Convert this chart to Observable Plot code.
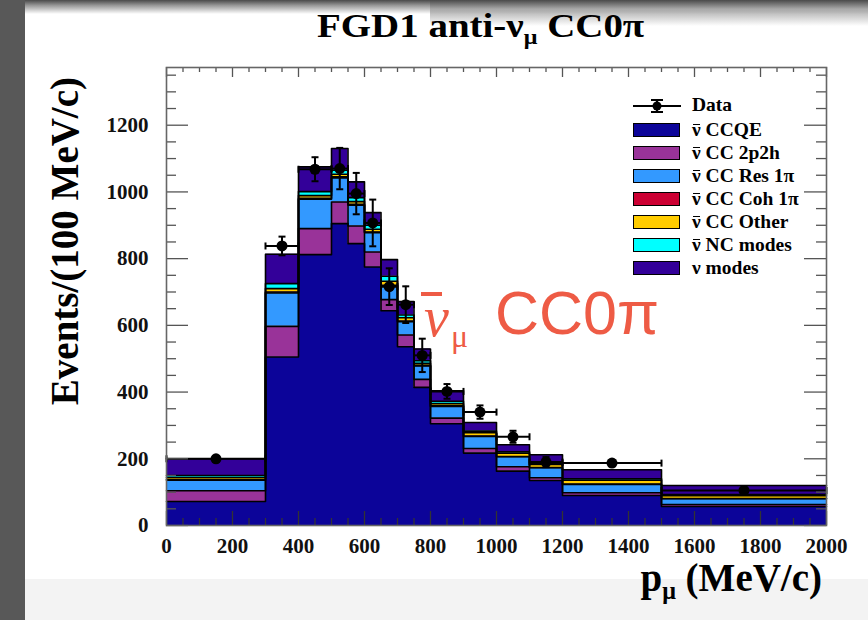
<!DOCTYPE html>
<html><head><meta charset="utf-8">
<script src="https://cdn.jsdelivr.net/npm/d3@7"></script>
<script src="https://cdn.jsdelivr.net/npm/@observablehq/plot@0.6"></script>
<style>
html,body{margin:0;padding:0;}
body{width:868px;height:620px;position:relative;overflow:hidden;background:#585858;font-family:"Liberation Serif","Times New Roman",serif;}
#panel{position:absolute;left:25px;top:0;width:843px;height:620px;background:#fff;}
#topshade{position:absolute;left:25px;top:0;width:843px;height:14px;background:linear-gradient(#4a4a4a 0%,#9a9a9a 40%,#ffffff 100%);}
#topshade2{position:absolute;left:430px;top:0;width:438px;height:26px;background:linear-gradient(#4a4a4a 0%,#aaaaaa 35%,rgba(255,255,255,0) 100%);}
#bottomband{position:absolute;left:25px;top:579px;width:843px;height:41px;background:#f3f3f3;}
#chart{position:absolute;left:0;top:0;}
#title{position:absolute;left:0;top:8px;width:962px;text-align:center;font-size:33px;line-height:36px;font-weight:bold;white-space:nowrap;}
#title span.t{display:inline-block;transform:scaleX(1.18);}
sub{font-size:0.62em;vertical-align:-0.32em;line-height:0;}
#ylabel{position:absolute;left:45px;top:477px;width:400px;text-align:right;transform-origin:0 0;transform:rotate(-90deg);font-size:39px;line-height:40px;font-weight:bold;white-space:nowrap;}
#xlabel{position:absolute;right:46px;top:558px;font-size:39px;line-height:40px;font-weight:bold;white-space:nowrap;}
.leg{position:absolute;font-size:19.5px;font-weight:bold;white-space:nowrap;line-height:20px;}
.ov{position:relative;display:inline-block;}
.ov::before{content:"";position:absolute;left:1px;right:1px;top:4px;height:1.5px;background:#000;}
.sw{position:absolute;width:45px;height:12px;border:1.5px solid #000;}
.red{position:absolute;color:#ee5b45;white-space:nowrap;}
</style></head><body>
<div id="panel"></div>
<div id="topshade"></div>
<div id="topshade2"></div>
<div id="bottomband"></div>
<div id="chart"></div>
<div id="title"><span class="t">FGD1 anti-ν<sub>μ</sub> CC0π</span></div>
<div id="ylabel">Events/(100 MeV/c)</div>
<div id="xlabel">p<sub>μ</sub> (MeV/c)</div>
<div id="legend"></div>
<div class="red" style="left:424px;top:290px;font-family:'Liberation Serif',serif;font-style:italic;font-size:56px;line-height:54px;">ν</div>
<div class="red" style="left:421px;top:292px;width:21px;height:4px;background:#ee5b45;"></div>
<div class="red" style="left:451px;top:320px;font-family:'Liberation Serif',serif;font-size:32px;line-height:32px;">μ</div>
<div class="red" style="left:495px;top:283px;font-family:'Liberation Sans',Arial,sans-serif;font-size:61px;line-height:60px;">CC0π</div>
<script>
// ---- data ----
const binEdges = [0,300,400,500,550,600,650,700,750,800,900,1000,1100,1200,1500,2000];
const ccqe    = [72, 505, 812, 905, 845, 775, 644, 536, 414, 305, 217, 163, 135, 90, 57];
const cc2p2h  = [32,  92,  78,  65,  53,  45,  33,  35,  24,  17,  14,  13,   8,  8,  6];
const ccRes1pi= [32, 100,  88,  72,  62,  58,  40,  40,  40,  35,  36,  30,  30, 25, 17];
const ccCoh1pi= [ 2,   3,   3,   3,   3,   2,   3,   2,   2,   2,   1,   1,   1,  1,  1];
const ccOther = [ 6,  10,   8,   8,   8,   8,  12,  10,   6,   6,  10,  10,   9, 12,  8];
const ncModes = [ 6,  15,  12,  12,  12,  12,  15,   8,   8,   7,   5,   4,   4,  4,  4];
const nuModes = [50,  88,  74,  65,  47,  38,  50,  40,  35,  32,  26,  21,  25, 27, 27];

const componentNames  = ["anti-ν CCQE","anti-ν CC 2p2h","anti-ν CC Res 1π","anti-ν CC Coh 1π","anti-ν CC Other","anti-ν NC modes","ν modes"];
const componentColors = ["#0c0499","#993399","#3399ff","#cc0033","#ffcc00","#00ffff","#330099"];
const componentValues = [ccqe, cc2p2h, ccRes1pi, ccCoh1pi, ccOther, ncModes, nuModes];

const dataX   = [150, 350, 450, 525, 575, 625, 675, 725, 775, 850, 950, 1050, 1150, 1350, 1750];
const dataY   = [200, 838, 1068, 1070, 995, 907, 716, 662, 510, 402, 340, 266, 190, 187, 105];
const dataErr = [8, 28, 36, 62, 62, 70, 55, 55, 50, 22, 20, 18, 15, 9, 6];

const xMajorTicks = [0,200,400,600,800,1000,1200,1400,1600,1800,2000];
const yMajorTicks = [0,200,400,600,800,1000,1200];
const xMinorTicks = d3.range(0, 2001, 50).filter(v => v % 200 !== 0);
const yMinorTicks = d3.range(0, 1371, 50).filter(v => v % 200 !== 0);

// ---- build tables ----
const nBins = binEdges.length - 1;
const areaRows = [];
const lineRows = [];
const cum = new Array(nBins).fill(0);
componentValues.forEach((vals, k) => {
  const lower = cum.slice();
  for (let i = 0; i < nBins; i++) cum[i] += vals[i];
  for (let i = 0; i <= nBins; i++) {
    const j = Math.min(i, nBins - 1);
    areaRows.push({x: binEdges[i], y1: lower[j], y2: cum[j], comp: componentNames[k]});
    lineRows.push({x: binEdges[i], y: cum[j], comp: componentNames[k]});
  }
});
const points = dataX.map((x, i) => ({x, y: dataY[i], lo: dataY[i] - dataErr[i], hi: dataY[i] + dataErr[i], x1: binEdges[i], x2: binEdges[i+1]}));

const hCap = {draw(ctx, size){ const r = Math.sqrt(size/Math.PI); ctx.moveTo(-r,0); ctx.lineTo(r,0); }};
const vCap = {draw(ctx, size){ const r = Math.sqrt(size/Math.PI); ctx.moveTo(0,-r); ctx.lineTo(0,r); }};

const W = 868, H = 560, mL = 166, mR = 42, mT = 67, mB = 35;
const pw = W - mL - mR, ph = H - mT - mB;
const font = {fontFamily: "Liberation Serif, Times New Roman, serif", fontWeight: "bold", fontSize: 21, fill: "#111"};

const chart = Plot.plot({
  width: W, height: H,
  marginLeft: mL, marginRight: mR, marginTop: mT, marginBottom: mB,
  style: {background: "transparent", overflow: "visible"},
  x: {domain: [0, 2000]},
  y: {domain: [0, 1373]},
  color: {domain: componentNames, range: componentColors},
  marks: [
    Plot.areaY(areaRows, {x: "x", y1: "y1", y2: "y2", z: "comp", fill: "comp", curve: "step-after"}),
    Plot.line(lineRows, {x: "x", y: "y", z: "comp", stroke: "#000", strokeWidth: 1.6, curve: "step-after"}),
    // data
    Plot.ruleX(points, {x: "x", y1: "lo", y2: "hi", stroke: "#000", strokeWidth: 2}),
    Plot.ruleY(points, {y: "y", x1: "x1", x2: "x2", stroke: "#000", strokeWidth: 2}),
    Plot.dot(points, {x: "x", y: "hi", symbol: hCap, r: 3.5, stroke: "#000", strokeWidth: 2}),
    Plot.dot(points, {x: "x", y: "lo", symbol: hCap, r: 3.5, stroke: "#000", strokeWidth: 2}),
    Plot.dot(points, {x: "x1", y: "y", symbol: vCap, r: 3.5, stroke: "#000", strokeWidth: 2}),
    Plot.dot(points, {x: "x2", y: "y", symbol: vCap, r: 3.5, stroke: "#000", strokeWidth: 2}),
    Plot.dot(points, {x: "x", y: "y", r: 5.5, fill: "#000"}),
    // ticks inside frame
    Plot.ruleX(xMajorTicks, {insetTop: ph - 14, stroke: "#333", strokeWidth: 1.3}),
    Plot.ruleX(xMinorTicks, {insetTop: ph - 7, stroke: "#333", strokeWidth: 1.3}),
    Plot.ruleX(xMajorTicks, {insetBottom: ph - 10, stroke: "#555", strokeWidth: 1.3}),
    Plot.ruleX(xMinorTicks, {insetBottom: ph - 5, stroke: "#555", strokeWidth: 1.3}),
    Plot.ruleY(yMajorTicks, {insetRight: pw - 22, stroke: "#555", strokeWidth: 1.3}),
    Plot.ruleY(yMinorTicks, {insetRight: pw - 10, stroke: "#555", strokeWidth: 1.3}),
    Plot.ruleY(yMajorTicks, {insetLeft: pw - 22, stroke: "#555", strokeWidth: 1.3}),
    Plot.ruleY(yMinorTicks, {insetLeft: pw - 10, stroke: "#555", strokeWidth: 1.3}),
    Plot.frame({stroke: "#666", strokeWidth: 1.6}),
    Plot.axisX(xMajorTicks, {tickSize: 0, tickPadding: 13, label: null, tickFormat: d3.format("d"), ...font}),
    Plot.axisY(yMajorTicks, {tickSize: 0, tickPadding: 18, label: null, tickFormat: d3.format("d"), ...font})
  ]
});
document.getElementById("chart").appendChild(chart);

// ---- legend ----
const legend = document.getElementById("legend");
const lx = 633, rowStart = 130.5, rowStep = 23;
const dataRow = document.createElement("div");
dataRow.innerHTML = `<svg style="position:absolute;left:${lx}px;top:98px" width="50" height="16">
  <line x1="0" y1="8" x2="48" y2="8" stroke="#000" stroke-width="2"/>
  <line x1="24" y1="2" x2="24" y2="14" stroke="#000" stroke-width="2"/>
  <line x1="18" y1="2" x2="30" y2="2" stroke="#000" stroke-width="2"/>
  <line x1="18" y1="14" x2="30" y2="14" stroke="#000" stroke-width="2"/>
  <circle cx="24" cy="8" r="4.5" fill="#000"/></svg>
  <div class="leg" style="left:692px;top:${106-11}px">Data</div>`;
legend.appendChild(dataRow);
componentNames.forEach((name, k) => {
  const cy = rowStart + rowStep * k;
  const sw = document.createElement("div");
  sw.className = "sw";
  sw.style.left = lx + "px";
  sw.style.top = (cy - 7.5) + "px";
  sw.style.background = componentColors[k];
  legend.appendChild(sw);
  const t = document.createElement("div");
  t.className = "leg";
  t.style.left = "692px";
  t.style.top = (cy - 11) + "px";
  if (name.startsWith("anti-ν")) {
    t.innerHTML = '<span class="ov">ν</span>' + name.slice(6);
  } else {
    t.textContent = name;
  }
  legend.appendChild(t);
});
</script>
</body></html>
